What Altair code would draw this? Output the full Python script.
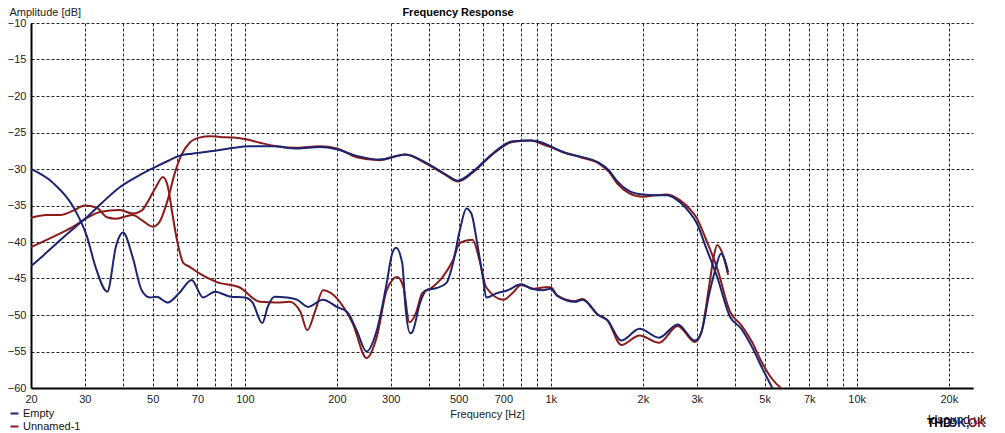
import altair as alt
import pandas as pd

BLUE = "#1c2470"
RED = "#8b1a1a"
FONT = "Liberation Sans"

# ---- data ----
empty_fr_f = [20, 22, 25, 28, 31, 34, 39, 45, 50, 56, 61, 67, 73, 83, 92, 104, 124, 148, 176, 200,
              232, 275, 335, 393, 456, 497, 555, 645, 750, 860, 940, 1000, 1100, 1250, 1430, 1550,
              1650, 1800, 2000, 2200, 2400, 2650, 2850, 3000, 3200, 3500, 3850, 4200, 4550, 4900, 5300]
empty_fr_db = [-43.3, -41.8, -39.7, -37.9, -36.3, -34.7, -32.5, -30.9, -29.9, -28.9, -28.2, -27.9,
               -27.7, -27.4, -27.1, -26.9, -26.9, -27.2, -27.0, -27.3, -28.2, -28.7, -28.0, -29.2,
               -30.8, -31.6, -30.4, -27.9, -26.2, -26.1, -26.4, -26.9, -27.7, -28.3, -29.1, -30.2,
               -31.7, -33.0, -33.5, -33.6, -33.6, -34.6, -36.0, -37.4, -40.5, -44.8, -50.2, -51.9,
               -54.4, -57.2, -60.0]

empty_thd_f = [20, 23.6, 27.5, 30.5, 32.5, 35.5, 38, 40, 43, 46, 49, 51.5, 56, 61, 67, 73, 80, 90,
               100, 106, 114, 119, 125, 137, 148, 161, 180, 200, 216, 232, 250, 270, 291, 303, 312,
               327, 335, 347, 353, 374, 393, 424, 456, 479, 505, 530, 550, 577, 600, 615, 667, 723,
               800, 866, 940, 1000, 1050, 1200, 1270, 1430, 1530, 1700, 1950, 2260, 2600, 2960,
               3100, 3300, 3450, 3600, 3800]
empty_thd_db = [-30.0, -31.9, -35.2, -39.3, -43.4, -46.8, -40.4, -38.7, -42.1, -46.6, -47.6, -47.5,
                -48.3, -47.0, -45.2, -47.6, -46.8, -47.5, -47.6, -48.3, -51.1, -48.8, -47.5, -47.6,
                -47.9, -48.9, -47.9, -48.9, -49.6, -52.1, -55.0, -52.1, -45.6, -41.6, -40.8, -42.9,
                -48.9, -52.5, -52.3, -48.3, -46.6, -46.3, -45.6, -42.9, -38.3, -35.4, -36.1, -40.6,
                -44.8, -47.6, -47.0, -46.6, -45.8, -46.4, -46.6, -46.4, -47.4, -48.2, -47.9, -50.0,
                -50.7, -53.5, -51.9, -53.1, -51.3, -53.5, -52.5, -47.0, -43.8, -41.6, -44.1]

unnamed_fr_f = [20, 22.5, 24.9, 27.5, 30, 32.8, 35.4, 38, 43, 46, 50, 52.5, 56, 59, 62, 66, 71, 77,
                83, 92, 100, 112, 124, 148, 176, 200, 232, 275, 335, 393, 456, 497, 555, 645, 750,
                860, 940, 1000, 1100, 1250, 1430, 1550, 1650, 1800, 2000, 2200, 2400, 2650, 2850,
                3000, 3200, 3500, 3850, 4200, 4550, 4900, 5300, 5650]
unnamed_fr_db = [-36.7, -36.3, -36.3, -35.7, -35.0, -35.3, -36.6, -36.8, -36.3, -37.0, -37.9, -37.3,
                 -34.2, -30.6, -28.1, -26.4, -25.7, -25.5, -25.6, -25.7, -25.9, -26.4, -26.8, -27.1,
                 -26.9, -27.2, -28.4, -28.8, -28.0, -29.3, -30.9, -31.7, -30.5, -28.0, -26.3, -26.1,
                 -26.6, -27.0, -27.7, -28.4, -29.2, -30.4, -32.0, -33.3, -33.8, -33.6, -33.5, -34.3,
                 -35.5, -36.7, -39.4, -43.6, -49.5, -51.4, -53.7, -56.5, -58.8, -60.0]

unnamed_thd_f = [20, 23.6, 27.5, 30.5, 33.6, 39, 43, 46, 48, 51, 54, 56, 58, 60, 63, 66, 71, 81, 96,
                 112, 127, 140, 152, 160, 170, 180, 194, 210, 225, 250, 270, 291, 315, 330, 345, 362,
                 380, 410, 443, 479, 505, 555, 585, 615, 700, 750, 800, 880, 960, 1000, 1050, 1200,
                 1270, 1430, 1530, 1700, 1950, 2260, 2600, 2960, 3100, 3300, 3400, 3500, 3650, 3800]
unnamed_thd_db = [-40.7, -39.3, -37.9, -36.7, -35.9, -35.6, -36.1, -35.7, -34.6, -32.6, -31.1, -32.4,
                  -36.2, -39.7, -42.9, -43.4, -44.3, -45.5, -46.2, -48.2, -48.3, -48.2, -49.6, -52.1,
                  -49.4, -46.6, -47.2, -48.9, -51.1, -55.9, -53.0, -46.6, -44.8, -46.2, -51.0, -49.8,
                  -47.0, -46.2, -44.8, -42.5, -40.1, -39.7, -42.5, -46.2, -47.9, -47.0, -45.9, -46.4,
                  -46.2, -46.2, -47.3, -48.1, -47.8, -50.0, -50.7, -54.1, -52.8, -53.8, -51.5, -53.7,
                  -52.5, -45.8, -42.3, -40.4, -41.7, -44.5]

series_names = ["Empty", "Unnamed-1"]

x_grid = [20, 30, 40, 50, 60, 70, 80, 90, 100, 200, 300, 400, 500, 600, 700, 800, 900,
          1000, 2000, 3000, 4000, 5000, 6000, 7000, 8000, 9000, 10000, 20000]
x_labeled = [20, 30, 50, 70, 100, 200, 300, 500, 700, 1000, 2000, 3000, 5000, 7000, 10000, 20000]
y_ticks = [-60, -55, -50, -45, -40, -35, -30, -25, -20, -15, -10]


def frame(freqs, dbs, series, kind):
    return pd.DataFrame({"f": freqs, "db": dbs, "series": series, "kind": kind})


df = pd.concat([
    frame(empty_fr_f, empty_fr_db, "Empty", "fr"),
    frame(empty_thd_f, empty_thd_db, "Empty", "thd"),
    frame(unnamed_fr_f, unnamed_fr_db, "Unnamed-1", "fr"),
    frame(unnamed_thd_f, unnamed_thd_db, "Unnamed-1", "thd"),
], ignore_index=True)

label_list = ",".join(str(v) for v in x_labeled)
label_expr = (
    f"indexof([{label_list}], datum.value) >= 0 ? "
    "(datum.value >= 1000 ? (datum.value / 1000) + 'k' : '' + datum.value) : ''"
)

x_enc = alt.X(
    "f:Q",
    scale=alt.Scale(type="log", domain=[20, 24000], nice=False),
    axis=alt.Axis(
        values=x_grid, labelExpr=label_expr, title="Frequency [Hz]",
        ticks=False, labelPadding=5, labelFlush=False, labelOverlap=False,
        titleX=456, titleY=26, titleBaseline="middle", titleFontWeight="normal",
    ),
)
y_enc = alt.Y(
    "db:Q",
    scale=alt.Scale(domain=[-60, -10], nice=False, zero=False),
    axis=alt.Axis(
        values=y_ticks, title="Amplitude [dB]", ticks=False, labelPadding=5,
        titleAngle=0, titleAlign="left", titleX=-22, titleY=-8,
        titleBaseline="alphabetic", titleFontWeight="normal",
    ),
)
color_enc = alt.Color(
    "series:N",
    scale=alt.Scale(domain=series_names, range=[BLUE, RED]),
    legend=alt.Legend(
        title=None, orient="none", legendX=-22, legendY=385, symbolType="stroke",
        symbolSize=64, symbolStrokeWidth=2, labelFontSize=11, labelFont=FONT,
        labelColor="#111", rowPadding=1, padding=0, labelOffset=3,
    ),
)


def curves(name):
    return alt.Chart(df).transform_filter(alt.datum.series == name).mark_line(
        strokeWidth=2, clip=True, interpolate="monotone"
    ).encode(x=x_enc, y=y_enc, color=color_enc, detail="kind:N")


one = pd.DataFrame({"t": [0]})


def label_text(txt, px, py, col, bold=False, align="left", size=12):
    return alt.Chart(one).mark_text(
        text=txt, align=align, baseline="middle", fontSize=size,
        fontWeight="bold" if bold else "normal", font=FONT, color=col,
    ).encode(x=alt.value(px), y=alt.value(py))


chart = alt.layer(
    curves("Unnamed-1"),
    curves("Empty"),
    label_text("Frequency Response", 427, -10, "#000", bold=True, align="center", size=11),
    label_text("ldsound.uk", 897, 397, "#000"),
    label_text("THD:", 896, 400, "#000", bold=True),
    label_text("OK,", 917, 400, BLUE, bold=True),
    label_text("OK", 937, 400, RED, bold=True),
).properties(
    width=942,
    height=365,
    background="white",
    autosize=alt.AutoSizeParams(type="none"),
    padding={"left": 23, "top": 15, "right": 24, "bottom": 45},
).configure_view(stroke=None).configure_axis(
    labelFont=FONT, labelFontSize=11, labelColor="#222",
    titleFont=FONT, titleFontSize=11, titleColor="#222",
    domainColor="#000", domainWidth=2,
    gridColor="#000", gridDash=[3, 2], gridWidth=1, gridOpacity=0.85,
)

chart.save("out.html", embed_options={"renderer": "svg", "actions": False})
